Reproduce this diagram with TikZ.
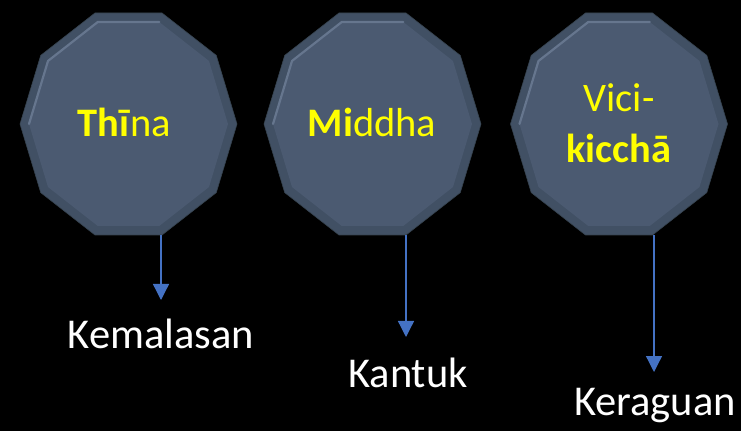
\documentclass[tikz,border=0pt]{standalone}
\usepackage{fontspec}
\setmainfont{Carlito}
\usetikzlibrary{arrows.meta}
\definecolor{ringc}{HTML}{415064}
\definecolor{facec}{HTML}{4B5A71}
\definecolor{hlc}{HTML}{66768E}
\definecolor{edgec}{HTML}{36434F}
\definecolor{yel}{HTML}{FFFF00}
\definecolor{arrc}{HTML}{4472C4}
\newcommand\decpath[4]{({#1+#3/2},{#2}) \foreach \k in {1,...,9}{ -- ({#1+#3/2*cos(36*\k)},{#2+#4/2*sin(36*\k)/0.9511})} -- cycle}
\newcommand\decshape[2]{%
  \fill[ringc] \decpath{#1}{#2}{217}{222};
  \draw[edgec,line width=0.6pt] \decpath{#1}{#2}{217}{222};
  \fill[facec] \decpath{#1}{#2}{199}{204};
  \draw[hlc,line width=2.2pt,line join=round,line cap=round]
    ({#1-199/2},{#2}) \foreach \k in {4,3,2} { -- ({#1+199/2*cos(36*\k)},{#2+204/2*sin(36*\k)/0.9511})};
}
\begin{document}
\begin{tikzpicture}[x=1pt,y=1pt,
  lab/.style={text=yel,font=\fontsize{40.5}{48}\selectfont,anchor=base,inner sep=0pt},
  outl/.style={text=white,font=\fontsize{42.5}{50}\selectfont,anchor=base,inner sep=0pt},
  conn/.style={draw=arrc,line width=1.3pt,-{Triangle[width=16pt,length=16pt]}}]
\fill[black] (0,0) rectangle (741,431);
\useasboundingbox (0,0) rectangle (741,431);
\decshape{128.5}{307}
\decshape{372.5}{307}
\decshape{619}{307}
\node[lab] (n1) at (124,294) {\textbf{Thī}na};
\node[lab] (n2) at (372,294) {\textbf{Mi}ddha};
\node[lab] (n3a) at (619,319) {Vici-};
\node[lab] (n3b) at (619,268) {\textbf{kicchā}};
\coordinate (s1) at (161,196);
\coordinate (s2) at (406,196);
\coordinate (s3) at (654,196);
\coordinate (e1) at (161,131);
\coordinate (e2) at (406,94);
\coordinate (e3) at (654,59);
\draw[conn] (s1) -- (e1);
\draw[conn] (s2) -- (e2);
\draw[conn] (s3) -- (e3);
\node[outl] (l1) at (161,82) {Kemalasan};
\node[outl] (l2) at (408,44) {Kantuk};
\node[outl] (l3) at (655,16) {Keraguan};
\end{tikzpicture}
\end{document}
